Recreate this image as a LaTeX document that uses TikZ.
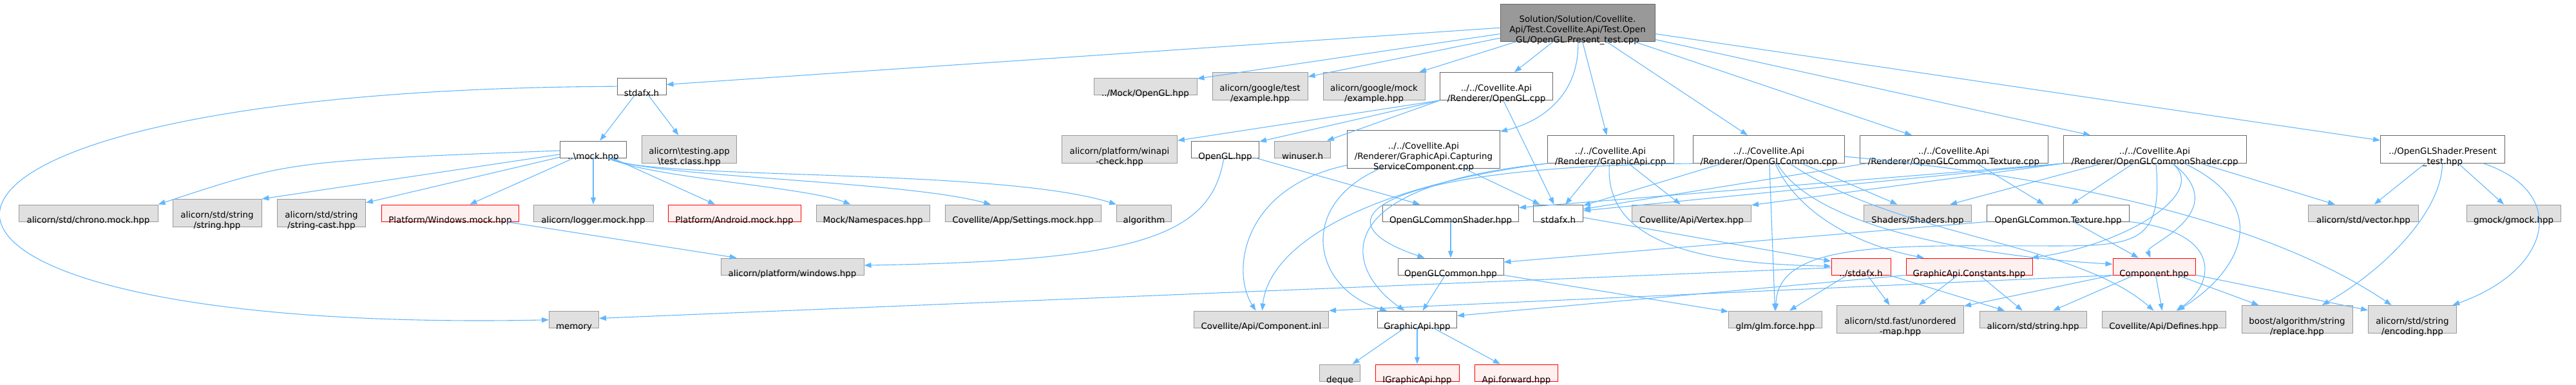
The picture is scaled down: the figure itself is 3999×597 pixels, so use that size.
\documentclass[tikz,border=0pt]{standalone}
\usepackage{fontspec}
\setmainfont{DejaVu Sans}
\usetikzlibrary{arrows.meta}
\definecolor{inclblue}{HTML}{63B8FF}
\definecolor{docframe}{HTML}{666666}
\definecolor{extframe}{HTML}{999999}
\definecolor{extfill}{HTML}{E0E0E0}
\definecolor{cutframe}{HTML}{FF0000}
\definecolor{cutfill}{HTML}{FFF0F0}
\definecolor{rootfill}{HTML}{999999}
\newcommand{\graphtext}{\fontsize{13.4}{16.1}\selectfont}
\newcommand{\inclabel}[1]{\raisebox{-16pt}[0pt][0pt]{\begin{tabular}{@{}c@{}}#1\end{tabular}}}
\tikzset{
  filebox/.style={rectangle,line width=1pt,inner sep=0pt,minimum height=26,font=\graphtext},
  docfile/.style={filebox,draw=docframe,fill=white},
  extfile/.style={filebox,draw=extframe,fill=extfill},
  cutfile/.style={filebox,draw=cutframe,fill=cutfill},
  rootfile/.style={filebox,draw=docframe,fill=rootfill},
  incl/.style={-{Triangle[length=11pt,width=8pt]},draw=inclblue,line width=1.1pt},
}

\begin{document}
\begin{tikzpicture}[x=1pt,y=-1pt,font=\graphtext]
\useasboundingbox (0,0) rectangle (3999,597);

\node[rootfile,minimum width=240,minimum height=58] (root) at (2449,35) {\inclabel{Solution/Solution/Covellite.\\Api/Test.Covellite.Api/Test.Open\\GL/OpenGL.Present\_test.cpp}};

\node[docfile,minimum width=76] (stdafxtop) at (996,134) {\inclabel{stdafx.h}};
\node[extfile,minimum width=160] (mockgl) at (1778,134) {\inclabel{../Mock/OpenGL.hpp}};
\node[extfile,minimum width=148,minimum height=43] (gtestex) at (1956,134) {\inclabel{alicorn/google/test\\/example.hpp}};
\node[extfile,minimum width=158,minimum height=43] (gmockex) at (2133,134) {\inclabel{alicorn/google/mock\\/example.hpp}};
\node[docfile,minimum width=175,minimum height=43] (openglcpp) at (2323,134) {\inclabel{../../Covellite.Api\\/Renderer/OpenGL.cpp}};

\node[docfile,minimum width=103] (mockhpp) at (921,232) {\inclabel{..\textbackslash mock.hpp}};
\node[extfile,minimum width=147,minimum height=43] (testclass) at (1070,232) {\inclabel{alicorn\textbackslash testing.app\\\textbackslash test.class.hpp}};
\node[extfile,minimum width=179,minimum height=43] (winapicheck) at (1738,232) {\inclabel{alicorn/platform/winapi\\-check.hpp}};
\node[docfile,minimum width=105] (openglhpp) at (1902,232) {\inclabel{OpenGL.hpp}};
\node[extfile,minimum width=87] (winuser) at (2022,232) {\inclabel{winuser.h}};
\node[docfile,minimum width=237,minimum height=59] (capturing) at (2210,232) {\inclabel{../../Covellite.Api\\/Renderer/GraphicApi.Capturing\\ServiceComponent.cpp}};
\node[docfile,minimum width=196,minimum height=43] (gapicpp) at (2500,232) {\inclabel{../../Covellite.Api\\/Renderer/GraphicApi.cpp}};
\node[docfile,minimum width=235,minimum height=43] (commoncpp) at (2746,232) {\inclabel{../../Covellite.Api\\/Renderer/OpenGLCommon.cpp}};
\node[docfile,minimum width=292,minimum height=43] (texturecpp) at (3033,232) {\inclabel{../../Covellite.Api\\/Renderer/OpenGLCommon.Texture.cpp}};
\node[docfile,minimum width=284,minimum height=43] (shadercpp) at (3345,232) {\inclabel{../../Covellite.Api\\/Renderer/OpenGLCommonShader.cpp}};
\node[docfile,minimum width=193,minimum height=43] (presenthpp) at (3792,232) {\inclabel{../OpenGLShader.Present\\\_test.hpp}};

\node[extfile,minimum width=216] (chrono) at (137,331) {\inclabel{alicorn/std/chrono.mock.hpp}};
\node[extfile,minimum width=138,minimum height=43] (stringhpp) at (337,331) {\inclabel{alicorn/std/string\\/string.hpp}};
\node[extfile,minimum width=137,minimum height=43] (stringcast) at (499,331) {\inclabel{alicorn/std/string\\/string-cast.hpp}};
\node[cutfile,minimum width=213] (winmock) at (699,331) {\inclabel{Platform/Windows.mock.hpp}};
\node[extfile,minimum width=186] (loggermock) at (921,331) {\inclabel{alicorn/logger.mock.hpp}};
\node[cutfile,minimum width=206] (androidmock) at (1140,331) {\inclabel{Platform/Android.mock.hpp}};
\node[extfile,minimum width=176] (namespaces) at (1355,331) {\inclabel{Mock/Namespaces.hpp}};
\node[extfile,minimum width=242] (settingsmock) at (1588,331) {\inclabel{Covellite/App/Settings.mock.hpp}};
\node[extfile,minimum width=85] (algorithm) at (1776,331) {\inclabel{algorithm}};
\node[docfile,minimum width=211] (shaderhpp) at (2252,331) {\inclabel{OpenGLCommonShader.hpp}};
\node[docfile,minimum width=77] (stdafxr) at (2419,331) {\inclabel{stdafx.h}};
\node[extfile,minimum width=185] (vertex) at (2626,331) {\inclabel{Covellite/Api/Vertex.hpp}};
\node[extfile,minimum width=167] (shaders) at (2977,331) {\inclabel{Shaders/Shaders.hpp}};
\node[docfile,minimum width=221] (texturehpp) at (3195,331) {\inclabel{OpenGLCommon.Texture.hpp}};
\node[extfile,minimum width=171] (vector) at (3669,331) {\inclabel{alicorn/std/vector.hpp}};
\node[extfile,minimum width=146] (gmock) at (3902,331) {\inclabel{gmock/gmock.hpp}};

\node[extfile,minimum width=222] (windowshpp) at (1230,414) {\inclabel{alicorn/platform/windows.hpp}};
\node[docfile,minimum width=164] (commonhpp) at (2252,414) {\inclabel{OpenGLCommon.hpp}};
\node[cutfile,minimum width=92] (stdafxup) at (2889,414) {\inclabel{../stdafx.h}};
\node[cutfile,minimum width=196] (constants) at (3057,414) {\inclabel{GraphicApi.Constants.hpp}};
\node[cutfile,minimum width=128] (component) at (3344,414) {\inclabel{Component.hpp}};

\node[extfile,minimum width=77] (memory) at (891,496) {\inclabel{memory}};
\node[extfile,minimum width=209] (componentinl) at (1958,496) {\inclabel{Covellite/Api/Component.inl}};
\node[docfile,minimum width=123] (gapihpp) at (2200,496) {\inclabel{GraphicApi.hpp}};
\node[extfile,minimum width=145] (glm) at (2756,496) {\inclabel{glm/glm.force.hpp}};
\node[extfile,minimum width=197,minimum height=43] (unordered) at (2950,496) {\inclabel{alicorn/std.fast/unordered\\-map.hpp}};
\node[extfile,minimum width=166] (stdstring) at (3156,496) {\inclabel{alicorn/std/string.hpp}};
\node[extfile,minimum width=192] (defines) at (3359,496) {\inclabel{Covellite/Api/Defines.hpp}};
\node[extfile,minimum width=172,minimum height=43] (replace) at (3566,496) {\inclabel{boost/algorithm/string\\/replace.hpp}};
\node[extfile,minimum width=137,minimum height=43] (encoding) at (3745,496) {\inclabel{alicorn/std/string\\/encoding.hpp}};

\node[extfile,minimum width=63] (deque) at (2080,579) {\inclabel{deque}};
\node[cutfile,minimum width=130] (igraphic) at (2200,579) {\inclabel{IGraphicApi.hpp}};
\node[cutfile,minimum width=129] (apiforward) at (2354,579) {\inclabel{Api.forward.hpp}};

\draw[incl] (root) -- (stdafxtop);
\draw[incl] (root) -- (mockgl);
\draw[incl] (root) -- (gtestex);
\draw[incl] (root) -- (gmockex);
\draw[incl] (root) -- (openglcpp);
\draw[incl] (root) .. controls (2452,150) and (2390,190) .. (capturing);
\draw[incl] (root) -- (gapicpp);
\draw[incl] (root) -- (commoncpp);
\draw[incl] (root) -- (texturecpp);
\draw[incl] (root) -- (shadercpp);
\draw[incl] (root) -- (presenthpp);

\draw[incl] (stdafxtop) -- (mockhpp);
\draw[incl] (stdafxtop) -- (testclass);
\draw[incl] (stdafxtop) .. controls (-300,140) and (-300,520) .. (memory);

\draw[incl] (mockhpp) .. controls (450,250) .. (chrono.north east);
\draw[incl] (mockhpp) -- (stringhpp.north east);
\draw[incl] (mockhpp) -- (stringcast);
\draw[incl] (mockhpp) -- (winmock);
\draw[incl] (mockhpp) -- (loggermock);
\draw[incl] (mockhpp) -- (androidmock);
\draw[incl] (mockhpp) .. controls (1000,275) and (1250,290) .. (namespaces);
\draw[incl] (mockhpp) .. controls (1000,275) and (1400,280) .. (settingsmock);
\draw[incl] (mockhpp) .. controls (1000,280) and (1550,260) .. (algorithm);
\draw[incl] (winmock) -- (windowshpp);

\draw[incl] (openglcpp.south west) -- (winapicheck);
\draw[incl] (openglcpp.south west) -- (openglhpp);
\draw[incl] (openglcpp.south west) -- (winuser);
\draw[incl] (openglcpp) -- (stdafxr);
\draw[incl] (openglhpp) .. controls (1880,370) and (1760,405) .. (windowshpp);
\draw[incl] (openglhpp) -- (shaderhpp);

\draw[incl] (capturing) -- (stdafxr);
\draw[incl] (capturing) .. controls (1930,290) and (1910,420) .. (componentinl);
\draw[incl] (capturing) .. controls (2010,320) and (2040,450) .. (gapihpp);

\draw[incl] (gapicpp) -- (stdafxr);
\draw[incl] (gapicpp) -- (vertex);
\draw[incl] (gapicpp) .. controls (2490,370) and (2620,410) .. (stdafxup);
\draw[incl] (gapicpp.south west) .. controls (2120,290) and (1970,380) .. (componentinl);
\draw[incl] (gapicpp.south west) .. controls (2050,290) and (2090,420) .. (gapihpp);

\draw[incl] (commoncpp) -- (stdafxr);
\draw[incl] (commoncpp) -- (shaders);
\draw[incl] (commoncpp) -- (glm);
\draw[incl] (commoncpp) .. controls (2790,330) and (2880,380) .. (constants);
\draw[incl] (commoncpp) .. controls (2820,360) and (3100,400) .. (component);
\draw[incl] (commoncpp) .. controls (2950,370) and (3220,375) .. (defines);
\draw[incl] (commoncpp) .. controls (3150,270) and (3500,330) .. (encoding);
\draw[incl] (commoncpp.south west) .. controls (2150,258) and (2030,340) .. (commonhpp);

\draw[incl] (texturecpp) -- (stdafxr);
\draw[incl] (texturecpp) -- (texturehpp);

\draw[incl] (shadercpp.south west) -- (stdafxr);
\draw[incl] (shadercpp.south west) -- (shaderhpp);
\draw[incl] (shadercpp.south west) -- (vertex);
\draw[incl] (shadercpp) -- (shaders);
\draw[incl] (shadercpp) -- (texturehpp);
\draw[incl] (shadercpp) -- (vector);
\draw[incl] (shadercpp) .. controls (3360,400) and (3300,380) .. (3100,382) .. controls (2880,380) and (2760,390) .. (glm);
\draw[incl] (shadercpp) .. controls (3430,300) and (3300,380) .. (constants);
\draw[incl] (shadercpp) .. controls (3470,330) and (3330,380) .. (component);
\draw[incl] (shadercpp) .. controls (3530,320) and (3480,420) .. (defines);

\draw[incl] (presenthpp) -- (vector);
\draw[incl] (presenthpp) -- (gmock);
\draw[incl] (presenthpp) .. controls (3790,330) and (3700,420) .. (replace);
\draw[incl] (presenthpp) .. controls (3990,300) and (3960,420) .. (encoding);

\draw[incl] (shaderhpp) -- (commonhpp);
\draw[incl] (stdafxr) -- (stdafxup);
\draw[incl] (texturehpp.south west) -- (commonhpp);
\draw[incl] (texturehpp) -- (component);
\draw[incl] (texturehpp.south east) .. controls (3450,360) and (3440,440) .. (defines);

\draw[incl] (commonhpp) -- (gapihpp);
\draw[incl] (commonhpp) -- (glm);

\draw[incl] (stdafxup) -- (memory);
\draw[incl] (stdafxup) -- (glm);
\draw[incl] (stdafxup) -- (unordered);
\draw[incl] (stdafxup) -- (stdstring);

\draw[incl] (constants.south west) -- (gapihpp);
\draw[incl] (constants) -- (unordered);
\draw[incl] (constants) -- (stdstring);

\draw[incl] (component.south west) -- (componentinl.north east);
\draw[incl] (component) -- (unordered);
\draw[incl] (component) -- (stdstring);
\draw[incl] (component) -- (defines);
\draw[incl] (component) -- (replace);
\draw[incl] (component) -- (encoding);

\draw[incl] (gapihpp) -- (deque);
\draw[incl] (gapihpp) -- (igraphic);
\draw[incl] (gapihpp) -- (apiforward);
\end{tikzpicture}
\end{document}
